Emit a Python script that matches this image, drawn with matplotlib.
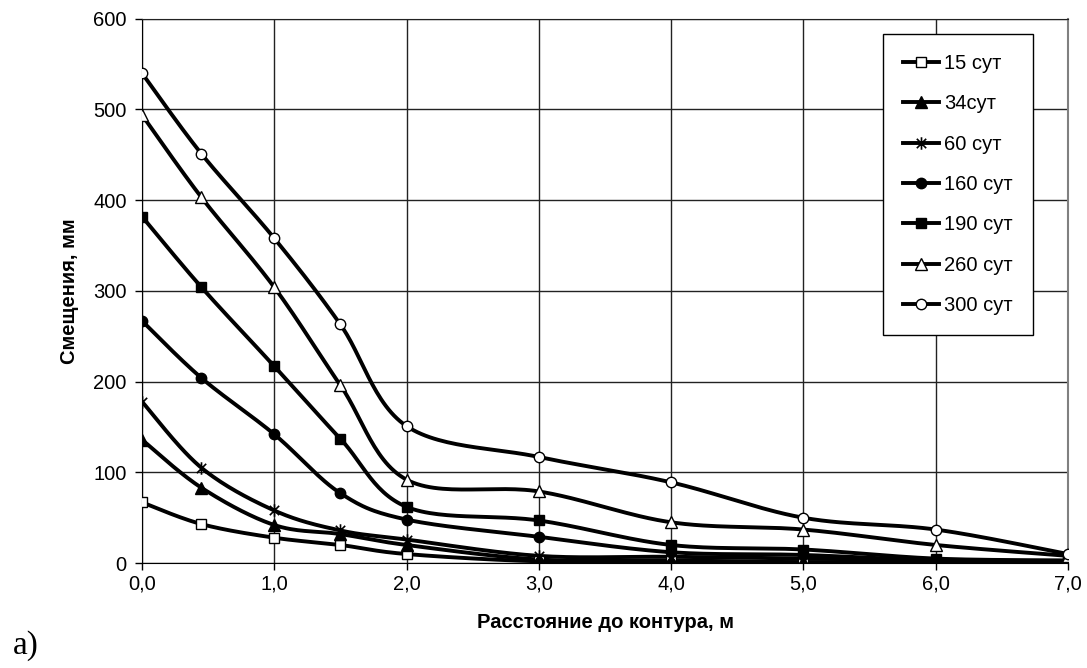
import matplotlib
matplotlib.use("Agg")
import matplotlib.pyplot as plt
import numpy as np
from matplotlib.path import Path

plt.rcParams['font.family'] = ['Liberation Sans', 'DejaVu Sans']

# distance from contour, m
dist = [0.0, 0.45, 1.0, 1.5, 2.0, 3.0, 4.0, 5.0, 6.0, 7.0]

d15 = [67, 43, 28, 20, 10, 2, 2, 1, 1, 1]
d34 = [136, 83, 42, 32, 20, 4, 3, 1, 1, 1]
d60 = [178, 105, 58, 36, 26, 8, 7, 5, 3, 2]
d160 = [267, 204, 142, 77, 48, 29, 12, 9, 3, 2]
d190 = [382, 304, 217, 137, 62, 47, 20, 15, 5, 3]
d260 = [494, 403, 304, 196, 92, 79, 45, 37, 20, 8]
d300 = [540, 451, 358, 263, 151, 117, 89, 50, 37, 10]

labels = ['15 сут', '34сут', '60 сут', '160 сут', '190 сут', '260 сут', '300 сут']
series = [d15, d34, d60, d160, d190, d260, d300]

x_ticks = [0, 1, 2, 3, 4, 5, 6, 7]
y_ticks = [0, 100, 200, 300, 400, 500, 600]

# asterisk marker (x with vertical bar), like Excel's star
star = Path([(0, -1), (0, 1), (-0.75, -0.75), (0.75, 0.75), (-0.75, 0.75), (0.75, -0.75)],
            [Path.MOVETO, Path.LINETO, Path.MOVETO, Path.LINETO, Path.MOVETO, Path.LINETO])

styles = [
    dict(marker='s', mfc='white', ms=7.5),
    dict(marker='^', mfc='black', ms=8),
    dict(marker=star, mfc='none', ms=9, mew=1.2),
    dict(marker='o', mfc='black', ms=7.5),
    dict(marker='s', mfc='black', ms=7.5),
    dict(marker='^', mfc='white', ms=8),
    dict(marker='o', mfc='white', ms=7.5),
]


def smooth(xs, ys, sx=132.3, sy=0.905, n=30):
    # Excel-like smoothed line: Bezier segments with Catmull-Rom control points
    p = np.column_stack([np.asarray(xs) * sx, np.asarray(ys) * sy])
    out = [p[0]]
    t = np.linspace(0, 1, n)[1:, None]
    for i in range(len(p) - 1):
        p0 = p[i - 1] if i > 0 else p[i]
        p1, p2 = p[i], p[i + 1]
        p3 = p[i + 2] if i + 2 < len(p) else p[i + 1]
        c1 = p1 + (p2 - p0) / 6.0
        c2 = p2 - (p3 - p1) / 6.0
        seg = ((1 - t) ** 3) * p1 + 3 * ((1 - t) ** 2) * t * c1 + 3 * (1 - t) * t ** 2 * c2 + t ** 3 * p2
        out.extend(seg)
    out = np.array(out)
    return out[:, 0] / sx, out[:, 1] / sy


fig = plt.figure(figsize=(10.87, 6.68), dpi=100)
ax = fig.add_axes([0.1306, 0.157, 0.852, 0.815])

for vals, lab, st in zip(series, labels, styles):
    sxv, syv = smooth(dist, vals)
    ax.plot(sxv, syv, color='black', lw=2.8, solid_capstyle='butt', zorder=3)
    ax.plot(dist, vals, ls='none', color='black', mec='black', zorder=4, **st)
    # legend proxy
    ax.plot([], [], color='black', lw=2.8, mec='black', label=lab, **st)

ax.set_xlim(0, 7)
ax.set_ylim(0, 600)
ax.set_xticks(x_ticks)
ax.set_xticklabels([f'{v:.1f}'.replace('.', ',') for v in x_ticks])
ax.set_yticks(y_ticks)
ax.tick_params(labelsize=14.5, direction='out', length=5, width=1, color='black')
ax.tick_params(axis='y', pad=6)
ax.grid(True, color='#222222', lw=1)
ax.set_axisbelow(True)

ax.spines['top'].set_color('#222222')
ax.spines['right'].set_color('#808080')
ax.spines['right'].set_linewidth(1.5)
ax.spines['left'].set_color('black')
ax.spines['bottom'].set_color('black')

ax.set_ylabel('Смещения, мм', fontsize=14.5, fontweight='bold', labelpad=10)
ax.set_xlabel('Расстояние до контура, м', fontsize=14.5, fontweight='bold', labelpad=14)

leg = ax.legend(loc='upper left', bbox_to_anchor=(0.800, 0.972), borderaxespad=0,
                fontsize=14.5, frameon=True, fancybox=False, edgecolor='black',
                labelspacing=1.06, handlelength=1.8, handletextpad=0.25, borderpad=1.0,
                framealpha=1)
leg.get_frame().set_linewidth(1)

fig.text(0.012, 0.022, 'а)', fontsize=24, family='Liberation Serif')

fig.savefig('out.png', dpi=100)
